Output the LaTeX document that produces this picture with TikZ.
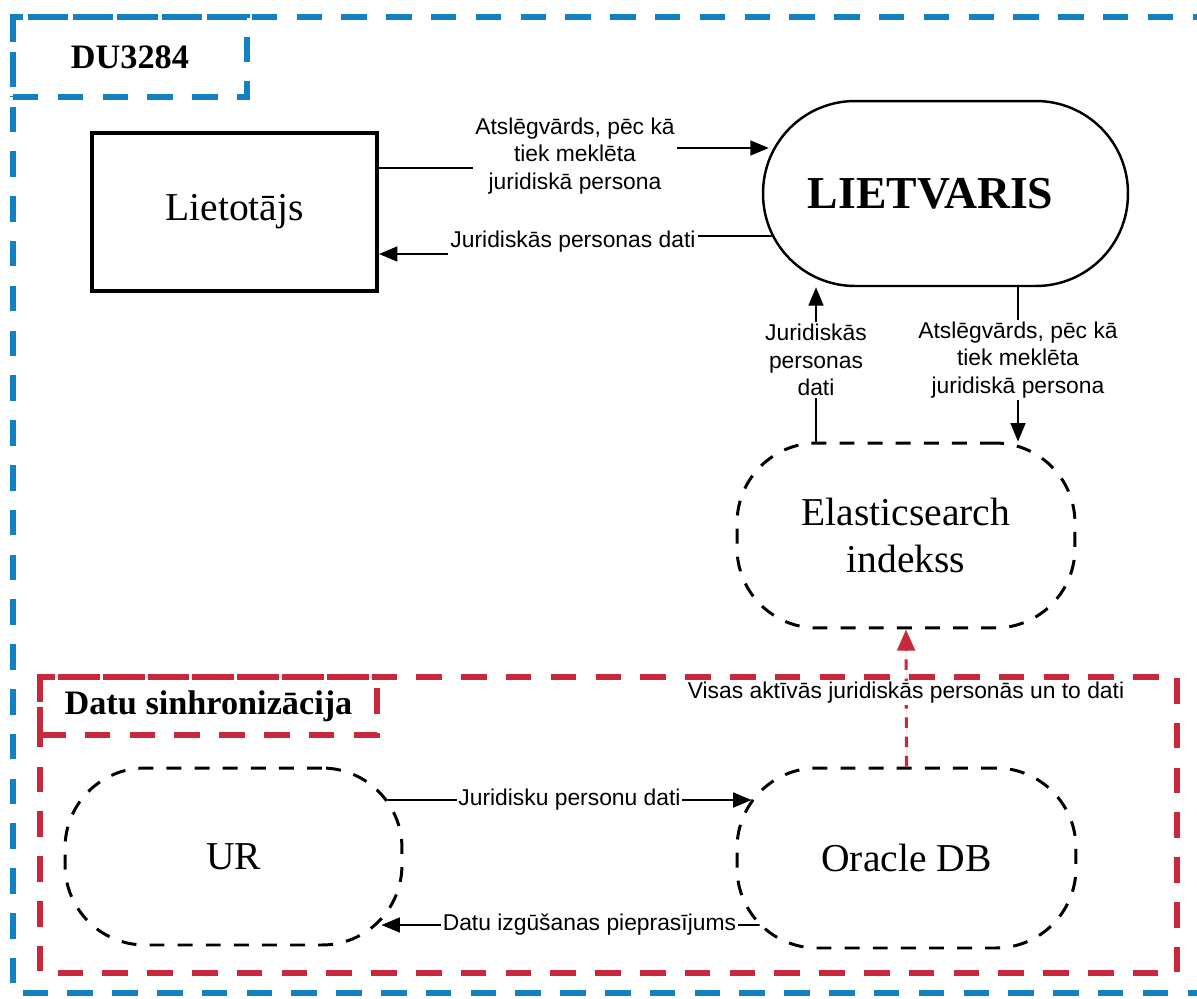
\documentclass[tikz,border=0pt]{standalone}
\usepackage{fontspec}
\setmainfont{Liberation Serif}
\setsansfont{Liberation Sans}
\usetikzlibrary{arrows.meta}
\definecolor{frameblue}{RGB}{20,128,196}
\definecolor{framered}{RGB}{200,40,60}
\begin{document}
\begin{tikzpicture}[x=0.02cm,y=-0.02cm,
    arr/.style={line width=1.1pt,-{Triangle[length=10.5pt,width=8.5pt]}},
    flow/.style={line width=1.1pt},
    lbl/.style={font=\sffamily\fontsize{13}{15.5}\selectfont,align=center,fill=white,inner sep=1pt},
    store/.style={draw=black,line width=1.7pt,dash pattern=on 8.5pt off 7.5pt,rounded corners=1.6cm,font=\fontsize{22.5}{26.5}\selectfont,align=center},
    bluebox/.style={draw=frameblue,line width=3.4pt,dash pattern=on 14.5pt off 11pt},
    redbox/.style={draw=framered,line width=3.4pt,dash pattern=on 14.5pt off 11pt}]
    \useasboundingbox (0,0) rectangle (1197,998);
    \clip (0,0) rectangle (1197,998);
    \draw[bluebox] (13,17) rectangle (1230,993);
    \node[bluebox,minimum width=4.68cm,minimum height=1.6cm,font=\bfseries\fontsize{19.5}{23}\selectfont] (du) at (130,57) {DU3284};
    \draw[redbox] (40,677) rectangle (1177,973);
    \node[redbox,minimum width=6.74cm,minimum height=1.16cm,font=\bfseries\fontsize{19.5}{23}\selectfont] (sync) at (208.5,706) {Datu sinhronizācija};
    \node[draw=black,line width=2.3pt,minimum width=5.7cm,minimum height=3.16cm,font=\fontsize{22.5}{26.5}\selectfont] (user) at (234.5,212) {Lietotājs};
    \node[draw=black,line width=1.4pt,rounded corners=1.84cm,minimum width=7.3cm,minimum height=3.7cm,font=\bfseries\fontsize{26}{31}\selectfont] (lietvaris) at (945.5,193.5) {LIETVARIS\kern17pt};
    \node[store,minimum width=6.76cm,minimum height=3.7cm] (elastic) at (906,535.5) {Elasticsearch\\indekss};
    \node[store,minimum width=6.74cm,minimum height=3.54cm] (ur) at (233.5,856.5) {UR};
    \node[store,minimum width=6.78cm,minimum height=3.6cm] (oracle) at (906.5,858) {Oracle DB};
    \coordinate (u1) at ([yshift=0.88cm]user.east);
    \coordinate (u2) at ([yshift=-0.84cm]user.east);
    \coordinate (l1) at ([xshift=0.14cm,yshift=0.91cm]lietvaris.west);
    \coordinate (l2) at ([xshift=0.2cm,yshift=-0.85cm]lietvaris.west);
    \node[lbl] (kw1) at (575,156) {Atslēgvārds, pēc kā\\tiek meklēta\\juridiskā persona};
    \node[lbl] (pd1) at (573,242) {Juridiskās personas dati};
    \node[lbl] (pd2) at (816,360) {Juridiskās\\personas\\dati};
    \node[lbl] (kw2) at (1018,360) {Atslēgvārds, pēc kā\\tiek meklēta\\juridiskā persona};
    \draw[flow] (u1) -- (u1 -| kw1.west);
    \draw[arr] (kw1.east |- l1) -- (l1);
    \draw[flow] (l2) -- (l2 -| pd1.east);
    \draw[arr] (u2 -| pd1.west) -- (u2);
    \draw[flow] (elastic.north -| pd2.south) -- (pd2.south);
    \draw[arr] (pd2.north) -- (lietvaris.south -| pd2.north);
    \draw[flow] (lietvaris.south -| kw2.north) -- (kw2.north);
    \draw[arr] (kw2.south) -- (elastic.north -| kw2.south);
    \draw[draw=framered,line width=1.8pt,dash pattern=on 6pt off 5pt,-{Triangle[length=12pt,width=10pt]},fill=framered] (oracle.north) -- (elastic.south);
    \node[lbl] (all) at (906,693) {Visas aktīvās juridiskās personās un to dati};
    \coordinate (u3) at ([xshift=-0.32cm,yshift=1.13cm]ur.east);
    \coordinate (u4) at ([xshift=-0.44cm,yshift=-1.37cm]ur.east);
    \coordinate (o3) at ([xshift=0.32cm,yshift=1.16cm]oracle.west);
    \coordinate (o4) at ([xshift=0.48cm,yshift=-1.34cm]oracle.west);
    \draw[arr] (u3) -- node[lbl] (jp) {Juridisku personu dati} (o3);
    \draw[arr] (o4) -- node[lbl,pos=0.45] (req) {Datu izgūšanas pieprasījums} (u4);
\end{tikzpicture}
\end{document}
